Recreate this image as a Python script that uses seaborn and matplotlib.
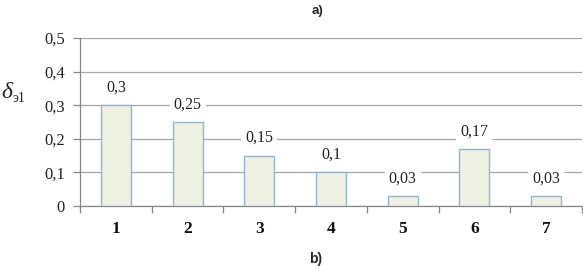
import matplotlib
matplotlib.use("Agg")
import matplotlib.pyplot as plt
import seaborn as sns
import pandas as pd
import numpy as np
from matplotlib.ticker import FixedLocator

categories = ["1", "2", "3", "4", "5", "6", "7"]
values = [0.3, 0.25, 0.15, 0.1, 0.03, 0.17, 0.03]
value_labels = ["0,3", "0,25", "0,15", "0,1", "0,03", "0,17", "0,03"]
y_ticks = [0, 0.1, 0.2, 0.3, 0.4, 0.5]
y_tick_labels = ["0", "0,1", "0,2", "0,3", "0,4", "0,5"]

df = pd.DataFrame({"cat": categories, "val": values})

sns.set_theme(style="white")
plt.rcParams["font.family"] = ["Liberation Serif", "DejaVu Serif"]

fig = plt.figure(figsize=(5.83, 2.71), dpi=100)
ax = fig.add_axes([80/583, 65/271, 502/583, 168/271])

sns.barplot(data=df, x="cat", y="val", ax=ax, color="#EEF0E2",
            edgecolor="#95B3D7", linewidth=1.0, width=0.42, saturation=1, zorder=3)

ax.set_ylim(0, 0.5)
ax.set_xlim(-0.5, 6.5)
ax.set_yticks(y_ticks)
ax.set_yticklabels(y_tick_labels, fontsize=12, color="#222222")
ax.yaxis.grid(True, color="#A6A6A6", linewidth=0.9, zorder=0)
ax.set_axisbelow(True)
ax.set_xlabel("")
ax.set_ylabel("")

for lab in ax.get_xticklabels():
    lab.set_fontweight("bold")
    lab.set_fontsize(12.5)
    lab.set_color("#111111")
ax.tick_params(axis="x", which="major", length=0, pad=11)
ax.xaxis.set_minor_locator(FixedLocator(np.arange(-0.5, 7, 1.0)))
ax.tick_params(axis="x", which="minor", length=5, direction="out",
               color="#868686", bottom=True, width=0.9)
ax.tick_params(axis="y", which="major", length=5, direction="out",
               color="#868686", left=True, width=0.9, pad=6)

for s in ["top", "right"]:
    ax.spines[s].set_visible(False)
for s in ["left", "bottom"]:
    ax.spines[s].set_color("#868686")
    ax.spines[s].set_linewidth(0.9)

for i, (v, t) in enumerate(zip(values, value_labels)):
    ax.annotate(t, (i, v), xytext=(0, 7), textcoords="offset points",
                ha="center", va="bottom", fontsize=11.5, color="#222222", zorder=5,
                bbox=dict(boxstyle="square,pad=0.25", fc="white", ec="none"))

fig.text(1/583, 1 - 92/271, "δ", fontsize=17, style="italic",
         ha="left", va="center")
fig.text(13/583, 1 - 98/271, "э1", fontsize=10, ha="left", va="center")

fig.text(318/583, 1 - 11/271, "a)", fontsize=9.5, fontweight="bold",
         family="Liberation Sans", ha="center", va="center")
fig.text(316/583, 1 - 259/271, "b)", fontsize=10, fontweight="bold",
         family="Liberation Sans", ha="center", va="center")

fig.savefig("out.png", dpi=100)
